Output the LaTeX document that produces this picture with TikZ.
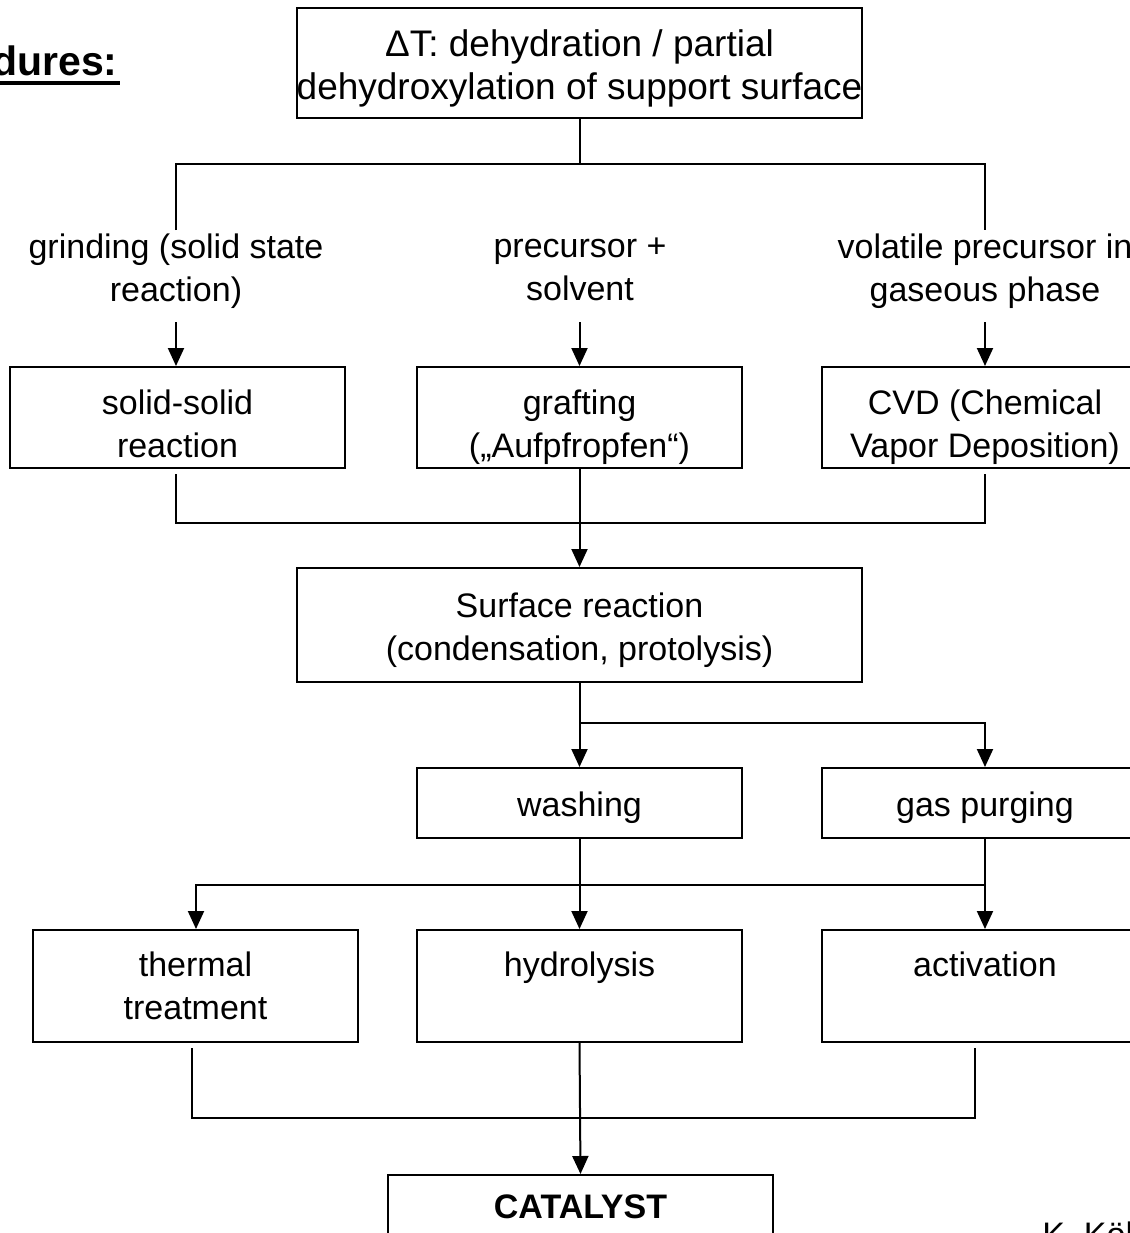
\documentclass[tikz,border=0pt]{standalone}
\usepackage{fontspec}
\setmainfont{Liberation Sans}
\usetikzlibrary{arrows.meta}
\newcommand\liftto[1]{\rule{0pt}{#1}}
\begin{document}
\begin{tikzpicture}[x=0.5pt,y=-0.5pt,
  txt/.style={font=\fontsize{17pt}{21.5pt}\selectfont},
  box/.style={draw, line width=1pt, align=center, inner sep=0pt, txt},
  lbl/.style={align=center, inner sep=0pt, txt},
  ln/.style={line width=1pt},
  arr/.style={line width=1pt, -{Triangle[width=8pt,length=9pt]}}]
\useasboundingbox (0,0) rectangle (1130,1233);
\clip (0,0) rectangle (1130,1233);

% title fragment
\node[inner sep=0pt, anchor=base east, font=\bfseries\fontsize{20.5pt}{24pt}\selectfont] (ttl) at (118,75) {dures:};
\draw[line width=2pt] ([yshift=-4pt]ttl.base west) -- ([yshift=-4pt,xshift=1pt]ttl.base east);

% boxes
\node[box, minimum width=282.5pt, minimum height=55pt, font=\fontsize{18.5pt}{21.5pt}\selectfont] (top) at (579.5,63) {\liftto{18.5pt}ΔT: dehydration / partial\\dehydroxylation of support surface};

\node[lbl] (l1) at (176,271) {grinding (solid state\\reaction)};
\node[lbl] (l2) at (580,269) {precursor +\\solvent};
\node[lbl] (l3) at (985,271) {volatile precursor in\\gaseous phase};

\node[box, minimum width=167.5pt, minimum height=50.5pt] (solid) at (177.5,417.5) {\liftto{18.4pt}solid-solid\\reaction};
\node[box, minimum width=162.5pt, minimum height=50.5pt] (graft) at (579.5,417.5) {\liftto{22.4pt}grafting\\(„Aufpfropfen“)};
\node[box, minimum width=163pt, minimum height=50.5pt] (cvd) at (985,417.5) {\liftto{22.4pt}CVD (Chemical\\Vapor Deposition)};

\node[box, minimum width=282.5pt, minimum height=57pt] (surf) at (579.5,625) {\liftto{17.4pt}Surface reaction\\(condensation, protolysis)};

\node[box, minimum width=162.5pt, minimum height=35pt] (wash) at (579.5,803) {\liftto{17.4pt}washing};
\node[box, minimum width=163pt, minimum height=35pt] (gas) at (985,803) {\liftto{17.4pt}gas purging};

\node[box, minimum width=162.5pt, minimum height=56pt] (therm) at (195.5,986) {thermal\\treatment};
\node[box, minimum width=162.5pt, minimum height=56pt] (hydro) at (579.5,986) {hydrolysis\\\mbox{}};
\node[box, minimum width=163pt, minimum height=56pt] (activ) at (985,986) {activation\\\mbox{}};

\node[box, minimum width=192.5pt, minimum height=32pt, font=\bfseries\fontsize{17pt}{21.5pt}\selectfont] (cat) at (580.5,1207) {CATALYST};

\node[inner sep=0pt, anchor=base west, txt] (auth) at (1042,1246) {K. Köh};

% connectors: top -> three routes
\coordinate (j1) at (579.5,164);
\coordinate (j1l) at (176,164);
\coordinate (j1r) at (985,164);
\coordinate (e1l) at (176,230);
\coordinate (e1r) at (985,230);
\draw[ln] (top.south) -- (j1);
\draw[ln] (e1l) -- (j1l) -- (j1r) -- (e1r);

\coordinate (s1) at (176,322);
\coordinate (s2) at (579.5,322);
\coordinate (s3) at (985,322);
\draw[arr] (s1) -- (s1 |- solid.north);
\draw[arr] (s2) -- (graft.north);
\draw[arr] (s3) -- (cvd.north);

% merge into surface reaction
\coordinate (b1l) at (176,474);
\coordinate (b1r) at (985,474);
\coordinate (j2l) at (176,523);
\coordinate (j2r) at (985,523);
\draw[ln] (b1l) -- (j2l) -- (j2r) -- (b1r);
\draw[arr] (graft.south) -- (surf.north);

% split to washing / gas purging
\coordinate (j3) at (579.5,723);
\coordinate (j3r) at (985,723);
\draw[arr] (surf.south) -- (wash.north);
\draw[arr] (j3) -- (j3r) -- (gas.north);

% split to treatments
\coordinate (j4l) at (196,885);
\coordinate (j4r) at (985,885);
\draw[arr] (wash.south) -- (hydro.north);
\draw[arr] (j4r) -- (j4l) -- (j4l |- therm.north);
\draw[arr] (gas.south) -- (activ.north);

% merge into catalyst
\coordinate (b4l) at (192,1048);
\coordinate (b4r) at (975,1048);
\coordinate (j5l) at (192,1118);
\coordinate (j5r) at (975,1118);
\draw[ln] (b4l) -- (j5l) -- (j5r) -- (b4r);
\draw[arr] (hydro.south) -- (cat.north);
\end{tikzpicture}
\end{document}
